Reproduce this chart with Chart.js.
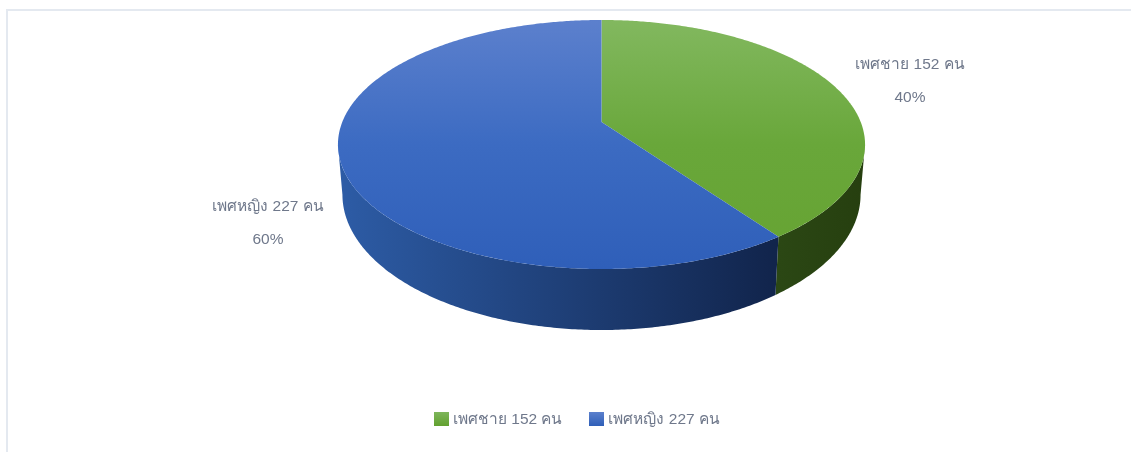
<!DOCTYPE html>
<html lang="th">
<head>
<meta charset="utf-8">
<title>เพศ</title>
<script src="https://cdn.jsdelivr.net/npm/chart.js@4"></script>
<style>
    html, body { margin: 0; padding: 0; background: #fff; overflow: hidden; }
    body { width: 1131px; height: 452px; position: relative; font-family: "Liberation Sans", "Noto Sans", sans-serif; }
    #frame { position: absolute; left: 6px; top: 9px; right: 0; bottom: -4px; border-left: 2px solid #e4e9f0; border-top: 2px solid #e4e9f0; }
    #genderChart { position: absolute; left: 0; top: 0; }
    #legend { position: absolute; left: 426px; top: 398px; display: flex; white-space: nowrap; font-size: 15.5px; line-height: 20px; color: #6f788b; }
    #legend .item { display: flex; align-items: center; margin-right: 27px; }
    #legend .box { width: 15px; height: 14px; margin-right: 4px; }
</style>
</head>
<body>
<div id="frame">
    <canvas id="genderChart" width="1123" height="441"></canvas>
    <div id="legend"></div>
</div>
<script>
// ---- data ----
const categories = ['เพศชาย 152 คน', 'เพศหญิง 227 คน'];
const counts = [152, 227];
const percentLabels = ['40%', '60%'];

// ---- colours per slice: top surface gradient, side wall gradient ----
const topColors = [['#82b85f', '#69a73a', '#66a332'], ['#5c80cd', '#3c6bc2', '#2f5fb9']];
const wallColors = [['#2b4714', '#263f0f'], ['#2d5ca6', '#11244b']];
const legendColors = [['#7eb65b', '#62a12f'], ['#5b80cd', '#2f5fb8']];
const labelColor = '#6f788b';

// shape of the tilted disc, in units of the pie radius
const X_SCALE = 2.082;
const TILT = -0.1807;
const WALL_X = 0.983;
const WALL_Y = 1.087;
const WALL_DROP = 0.403;

// where the two value labels sit on the canvas
const labelSpots = [{ x: 902, y: 54, gap: 33 }, { x: 260, y: 196, gap: 33 }];

// perspective projection of a point of the unit circle onto the top surface
function topPoint(arc, angle) {
    const u = Math.cos(angle), v = Math.sin(angle);
    const d = 1 + TILT * v;
    return {
        x: arc.x + arc.outerRadius * X_SCALE * u / d,
        y: arc.y + arc.outerRadius * (v + TILT) / d
    };
}

// same point on the lower rim of the side wall
function wallPoint(arc, angle) {
    const p = topPoint(arc, angle);
    return {
        x: arc.x + (p.x - arc.x) * WALL_X,
        y: arc.y + arc.outerRadius * WALL_DROP + (p.y - arc.y) * WALL_Y
    };
}

function arcAngles(start, end) {
    const steps = Math.max(2, Math.ceil((end - start) / 0.01));
    const list = [];
    for (let i = 0; i <= steps; i++) list.push(start + (end - start) * i / steps);
    return list;
}

function drawWall(ctx, arc, index) {
    // only the front part of the rim is visible
    const limit = Math.asin(-TILT);
    const start = Math.max(arc.startAngle, limit);
    const end = Math.min(arc.endAngle, Math.PI - limit);
    if (end <= start) return;
    const angles = arcAngles(start, end);
    ctx.beginPath();
    angles.forEach((a, i) => {
        const p = topPoint(arc, a);
        if (i === 0) ctx.moveTo(p.x, p.y); else ctx.lineTo(p.x, p.y);
    });
    angles.slice().reverse().forEach(a => {
        const p = wallPoint(arc, a);
        ctx.lineTo(p.x, p.y);
    });
    ctx.closePath();
    const xs = angles.map(a => topPoint(arc, a).x);
    const grad = ctx.createLinearGradient(Math.min(...xs), 0, Math.max(...xs), 0);
    const colors = wallColors[index];
    grad.addColorStop(0, colors[0]);
    grad.addColorStop(1, colors[1]);
    ctx.fillStyle = grad;
    ctx.fill();
}

function drawTop(ctx, arc, index) {
    ctx.beginPath();
    ctx.moveTo(arc.x, arc.y + arc.outerRadius * TILT);
    arcAngles(arc.startAngle, arc.endAngle).forEach(a => {
        const p = topPoint(arc, a);
        ctx.lineTo(p.x, p.y);
    });
    ctx.closePath();
    const grad = ctx.createLinearGradient(0, arc.y - arc.outerRadius, 0, arc.y + arc.outerRadius);
    const colors = topColors[index];
    grad.addColorStop(0, colors[0]);
    grad.addColorStop(0.5, colors[1]);
    grad.addColorStop(1, colors[2]);
    ctx.fillStyle = grad;
    ctx.fill();
}

// replaces the flat arcs with an extruded, tilted version of the same slices
const tiltedPie = {
    id: 'tiltedPie',
    beforeDatasetDraw(chart, args) {
        const ctx = chart.ctx;
        const arcs = chart.getDatasetMeta(args.index).data;
        ctx.save();
        arcs.forEach((arc, i) => drawWall(ctx, arc, i));
        arcs.forEach((arc, i) => drawTop(ctx, arc, i));
        ctx.restore();
        return false;
    },
    afterDatasetsDraw(chart) {
        const ctx = chart.ctx;
        ctx.save();
        ctx.font = '15.5px "Liberation Sans", "Noto Sans", sans-serif';
        ctx.fillStyle = labelColor;
        ctx.textAlign = 'center';
        ctx.textBaseline = 'middle';
        labelSpots.forEach((spot, i) => {
            ctx.fillText(categories[i], spot.x, spot.y);
            ctx.fillText(percentLabels[i], spot.x, spot.y + spot.gap);
        });
        ctx.restore();
    }
};

function renderLegend() {
    document.getElementById('legend').innerHTML = categories.map((label, i) => `
        <div class="item">
            <span class="box" style="background: linear-gradient(${legendColors[i][0]}, ${legendColors[i][1]});"></span>
            <span>${label}</span>
        </div>
    `).join('');
}

new Chart(document.getElementById('genderChart'), {
    type: 'pie',
    data: {
        labels: categories,
        datasets: [{
            data: counts,
            backgroundColor: topColors.map(c => c[1]),
            borderWidth: 0
        }]
    },
    options: {
        responsive: false,
        animation: false,
        layout: { padding: { left: 64, top: 9, bottom: 183 } },
        plugins: {
            legend: { display: false },
            tooltip: { enabled: false }
        }
    },
    plugins: [tiltedPie]
});

renderLegend();
</script>
</body>
</html>
